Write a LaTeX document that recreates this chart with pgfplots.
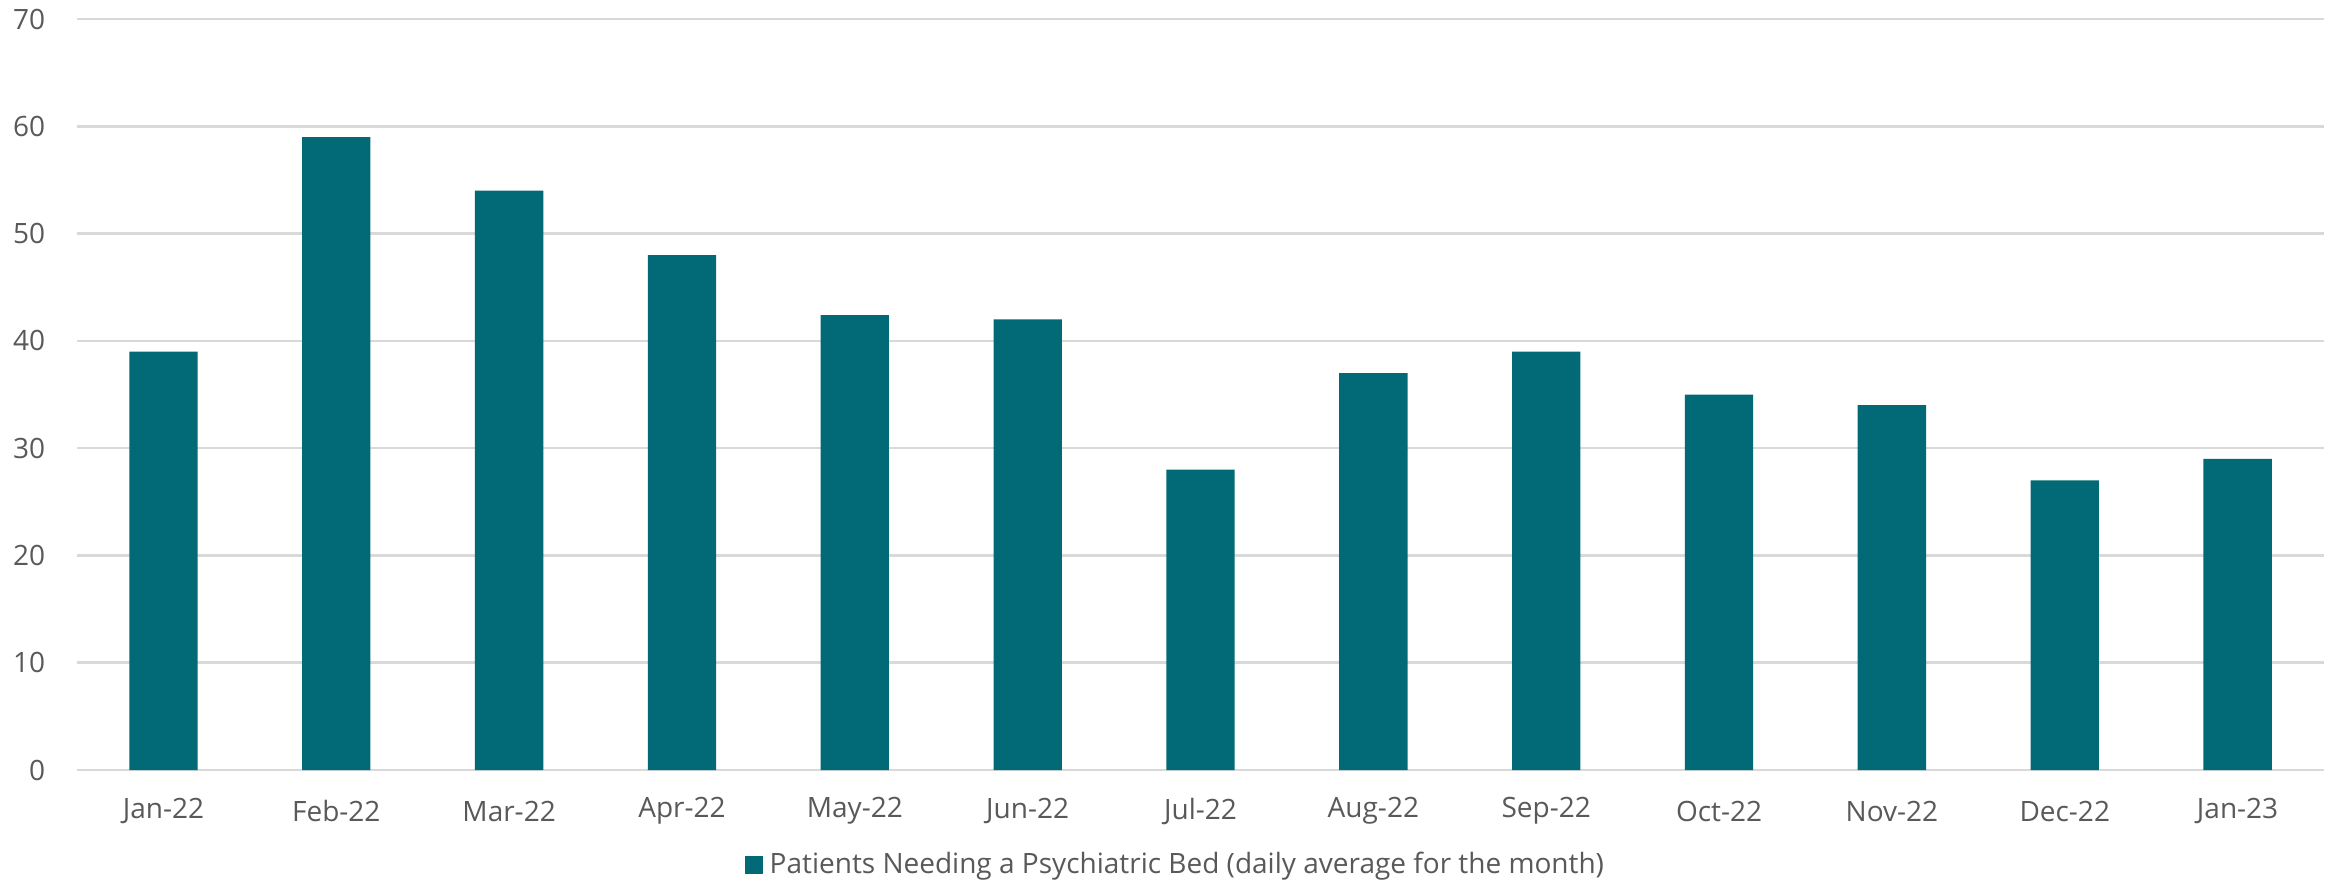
\documentclass[border=0pt]{standalone}
\usepackage{pgfplots}
\pgfplotsset{compat=1.18}
\usepackage{fontspec}
\setmainfont{Open Sans}

\definecolor{barteal}{HTML}{026A77}
\definecolor{labelgray}{HTML}{595959}
\definecolor{gridgray}{HTML}{D9D9D9}

% monthly daily averages, categories at 0..12
\pgfplotstableread{
idx value
0  39
1  59
2  54
3  48
4  42.4
5  42
6  28
7  37
8  39
9  35
10 34
11 27
12 29
}\beds

\begin{document}
\begin{tikzpicture}
\begin{axis}[
  name=main,
  scale only axis,
  width=674.1pt, height=225.3pt,
  xmin=-0.5, xmax=12.5,
  ymin=0, ymax=70,
  ytick={0,10,...,70},
  xtick={0,...,12},
  xticklabels={Jan-22,Feb-22,Mar-22,Apr-22,May-22,Jun-22,Jul-22,Aug-22,Sep-22,Oct-22,Nov-22,Dec-22,Jan-23},
  ybar, bar width=20.5pt,
  axis line style={draw=none},
  major tick length=0pt,
  ymajorgrids,
  grid style={gridgray, line width=0.8pt},
  /pgf/number format/assume math mode=true,
  tick label style={font=\fontsize{8.4}{10}\selectfont, text=labelgray},
  yticklabel style={anchor=east, xshift=-6pt},
  xticklabel style={anchor=center, yshift=-12.3pt},
  legend style={at={(0.49,-0.1265)}, anchor=center, draw=none,
    font=\fontsize{8.4}{10}\selectfont, text=labelgray, inner sep=0pt},
  legend image code/.code={\fill[barteal] (0pt,-2.6pt) rectangle (5.3pt,2.6pt);},
]
\addplot[fill=barteal, draw=none] table[x=idx, y=value] {\beds};
\legend{Patients Needing a Psychiatric Bed (daily average for the month)}
\end{axis}
\pgfresetboundingbox
\path ([xshift=-23.1pt,yshift=-33.9pt]main.south west) rectangle ([xshift=3.3pt,yshift=5.7pt]main.north east);
\end{tikzpicture}
\end{document}
